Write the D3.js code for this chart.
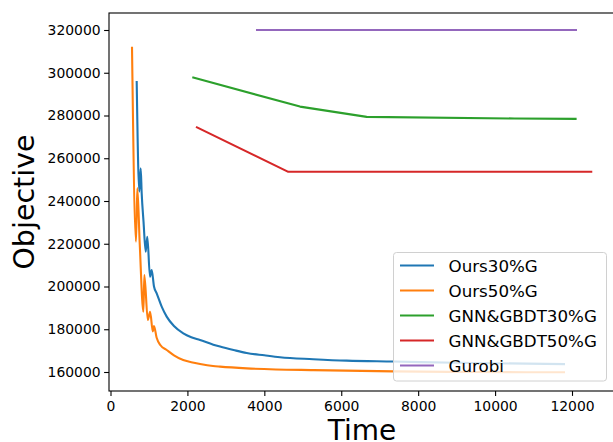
<!DOCTYPE html>
<html>
<head>
<meta charset="utf-8">
<script src="https://cdn.jsdelivr.net/npm/d3@7"></script>
<style>
  html, body { margin: 0; padding: 0; background: #fff; }
  svg { display: block; font-family: "DejaVu Sans", sans-serif; }
</style>
</head>
<body>
<svg id="chart" width="613" height="442"></svg>
<script>
// ---- data ----
const seriesNames = ["Ours30%G", "Ours50%G", "GNN&GBDT30%G", "GNN&GBDT50%G", "Gurobi"];

const ours30Time = [681, 749, 785, 811, 860, 915, 957, 1027, 1071, 1131, 1201, 1331, 1461, 1650, 1893, 2100, 2327, 2673, 2847, 3200, 3541, 4000, 4407, 5273, 6141, 7353, 9000, 11818];
const ours30Obj  = [296100, 244400, 255300, 243600, 230000, 216300, 223300, 204600, 207700, 200000, 196800, 190600, 185900, 181500, 178100, 176300, 175000, 172800, 171900, 170300, 168900, 167800, 166900, 166000, 165300, 164900, 164300, 163700];

const ours50Time = [559, 663, 697, 760, 855, 880, 970, 1030, 1100, 1130, 1200, 1300, 1460, 1650, 1890, 2100, 2330, 2665, 2847, 3541, 4300, 5273, 7353, 9500, 11818];
const ours50Obj  = [312200, 221000, 246000, 220000, 188200, 205400, 184300, 188200, 179000, 181500, 176000, 172500, 170300, 167800, 165600, 164600, 163750, 162800, 162500, 161700, 161200, 160900, 160300, 160000, 159850];

const gnn30Time = [2127, 4927, 6661, 10500, 12120];
const gnn30Obj  = [297900, 284160, 279350, 278600, 278400];

const gnn50Time = [2223, 4623, 12527];
const gnn50Obj  = [274670, 253650, 253650];

const gurobiTime = [3783, 12130];
const gurobiObj  = [320000, 320000];

const xTicks = [0, 2000, 4000, 6000, 8000, 10000, 12000];
const yTicks = [160000, 180000, 200000, 220000, 240000, 260000, 280000, 300000, 320000];

const colors = ["#1f77b4", "#ff7f0e", "#2ca02c", "#d62728", "#9467bd"];

// ---- build ----
const series = [
  [ours30Time, ours30Obj, true],
  [ours50Time, ours50Obj, true],
  [gnn30Time, gnn30Obj, false],
  [gnn50Time, gnn50Obj, false],
  [gurobiTime, gurobiObj, false]
].map(([t, v, smooth], i) => ({ name: seriesNames[i], color: colors[i], smooth, pts: t.map((tt, j) => [tt, v[j]]) }));

const svg = d3.select("#chart");
const pLeft = 109, pRight = 618, pTop = 13, pBottom = 391;

const x = d3.scaleLinear().domain([-39, 13196]).range([pLeft, pRight]);
const y = d3.scaleLinear().domain([151111, 327953]).range([pBottom, pTop]);

// lines
const lineStraight = d3.line().x(d => x(d[0])).y(d => y(d[1]));
const lineSmooth = d3.line().x(d => x(d[0])).y(d => y(d[1])).curve(d3.curveMonotoneX);
svg.append("g").selectAll("path").data(series).join("path")
  .attr("d", d => (d.smooth ? lineSmooth : lineStraight)(d.pts))
  .attr("fill", "none")
  .attr("stroke", d => d.color)
  .attr("stroke-width", 2.1)
  .attr("stroke-linejoin", "round")
  .attr("stroke-linecap", "butt");

// axes
const xAxis = d3.axisBottom(x).tickValues(xTicks).tickSize(4.9).tickPadding(5).tickFormat(d3.format("d"));
const yAxis = d3.axisLeft(y).tickValues(yTicks).tickSize(4.9).tickPadding(3.5).tickFormat(d3.format("d"));

const gx = svg.append("g").attr("transform", `translate(0,${pBottom})`).call(xAxis);
const gy = svg.append("g").attr("transform", `translate(${pLeft},0)`).call(yAxis);
[gx, gy].forEach(g => {
  g.select(".domain").remove();
  g.selectAll(".tick line").attr("stroke", "#000").attr("stroke-width", 1.1);
  g.selectAll(".tick text").attr("fill", "#000").style("font-size", "13.9px").style("font-family", "DejaVu Sans");
});

// spines
svg.append("rect")
  .attr("x", pLeft).attr("y", pTop)
  .attr("width", pRight - pLeft).attr("height", pBottom - pTop)
  .attr("fill", "none").attr("stroke", "#000").attr("stroke-width", 1.1);

// axis labels
svg.append("text")
  .attr("x", 362).attr("y", 439.5)
  .attr("text-anchor", "middle")
  .style("font-size", "28px")
  .text("Time");

svg.append("text")
  .attr("transform", `translate(34,${(pTop + pBottom) / 2}) rotate(-90)`)
  .attr("text-anchor", "middle")
  .style("font-size", "28.5px")
  .text("Objective");

// legend
const lg = svg.append("g");
lg.append("rect")
  .attr("x", 393.5).attr("y", 252.5)
  .attr("width", 213).attr("height", 128.5)
  .attr("rx", 3).attr("ry", 3)
  .attr("fill", "rgba(255,255,255,0.8)")
  .attr("stroke", "#d0d0d0").attr("stroke-width", 1);

const rowY = d3.scalePoint().domain(seriesNames).range([265.5, 365.5]);
const items = lg.selectAll("g.item").data(series).join("g").attr("class", "item")
  .attr("transform", d => `translate(0,${rowY(d.name)})`);
items.append("line")
  .attr("x1", 400).attr("x2", 434)
  .attr("stroke", d => d.color).attr("stroke-width", 2.1);
items.append("text")
  .attr("x", 448.5).attr("dy", "0.36em")
  .style("font-size", "16.7px")
  .attr("fill", "#000")
  .text(d => d.name);
</script>
</body>
</html>
